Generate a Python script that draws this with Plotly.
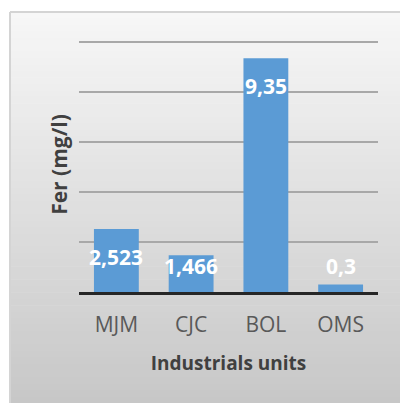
import plotly.graph_objects as go

categories = ["MJM", "CJC", "BOL", "OMS"]
values = [2.523, 1.466, 9.35, 0.3]
value_labels = ["2,523", "1,466", "9,35", "0,3"]
label_shift_px = [-28, -11, -28, 19]

W, H = 400, 403
ml, mr, mt, mb = 79, 22, 37, 111
pw, ph = W - ml - mr, H - mt - mb

def px_to_paper_x(px):
    return (px - ml) / pw

def px_to_paper_y(py):
    return (H - mb - py) / ph

fig = go.Figure()
fig.add_trace(go.Bar(
    x=categories, y=values, marker_color="#5b9bd5", marker_line_width=0,
    width=0.6, hoverinfo="skip"
))

# gradient background box
shapes = []
top_py, bot_py, left_px, right_px = 12, 403, 10, 400
n = 60
c_top = (247, 247, 247)
c_bot = (199, 199, 199)
for i in range(n):
    t = (i + 0.5) / n
    c = tuple(int(round(c_top[k] + (c_bot[k] - c_top[k]) * t)) for k in range(3))
    y0 = top_py + (bot_py - top_py) * i / n
    y1 = top_py + (bot_py - top_py) * (i + 1) / n + 0.6
    shapes.append(dict(type="rect", xref="paper", yref="paper", layer="below",
                       x0=px_to_paper_x(left_px), x1=px_to_paper_x(right_px),
                       y0=px_to_paper_y(y1), y1=px_to_paper_y(y0),
                       fillcolor="rgb(%d,%d,%d)" % c, line_width=0))
# border top and left
shapes.append(dict(type="line", xref="paper", yref="paper", layer="below",
                   x0=px_to_paper_x(left_px), x1=px_to_paper_x(right_px),
                   y0=px_to_paper_y(top_py), y1=px_to_paper_y(top_py),
                   line=dict(color="#d4d4d4", width=2)))
shapes.append(dict(type="line", xref="paper", yref="paper", layer="below",
                   x0=px_to_paper_x(left_px), x1=px_to_paper_x(left_px),
                   y0=px_to_paper_y(top_py), y1=px_to_paper_y(bot_py),
                   line=dict(color="#d4d4d4", width=2)))

annotations = []
for cat, v, lab, sh in zip(categories, values, value_labels, label_shift_px):
    annotations.append(dict(x=cat, y=v, xref="x", yref="y", text="<b>" + lab + "</b>",
                            showarrow=False, yshift=sh,
                            font=dict(family="Open Sans", size=21, color="white"),
                            xanchor="center", yanchor="middle"))

fig.update_layout(
    width=W, height=H,
    margin=dict(l=ml, r=mr, t=mt, b=mb, pad=0),
    paper_bgcolor="white", plot_bgcolor="rgba(0,0,0,0)",
    shapes=shapes, annotations=annotations, showlegend=False,
)
fig.update_xaxes(
    showline=True, linecolor="#262626", linewidth=3, ticks="", showgrid=False,
    tickfont=dict(family="Open Sans", size=21, color="#595959"),
    ticklabelstandoff=12,
    title=dict(text="<b>Industrials units</b>", standoff=20,
               font=dict(family="Open Sans", size=19, color="#404040")),
)
fig.update_yaxes(
    range=[0, 10.2], tickvals=[2, 4, 6, 8, 10], showticklabels=False, ticks="", zeroline=False,
    showgrid=True, gridcolor="#a8a8a8", gridwidth=2,
    title=dict(text="<b>Fer (mg/l)</b>", standoff=4,
               font=dict(family="Open Sans", size=21, color="#404040")),
)
fig.write_html("out.html")
